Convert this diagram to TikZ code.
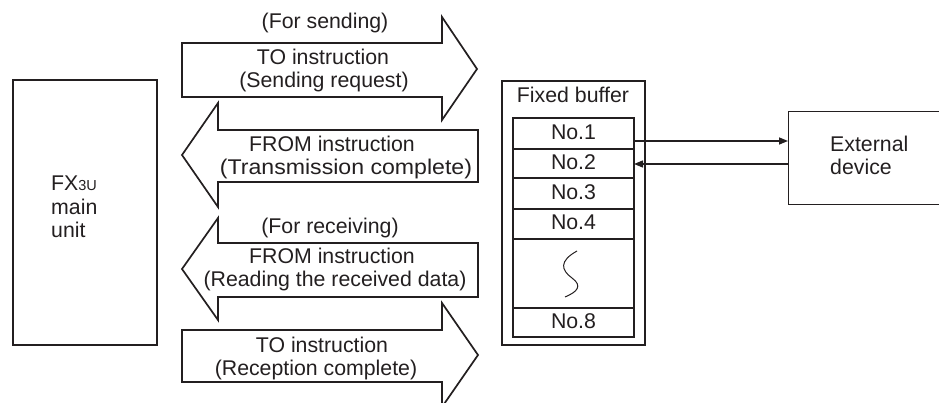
\documentclass[tikz,border=0pt]{standalone}
\usepackage{fontspec}
\setmainfont{Liberation Sans}
\usetikzlibrary{arrows.meta}
\definecolor{ink}{HTML}{231F20}
\begin{document}
\begin{tikzpicture}[x=1pt,y=-1pt,
  txt/.style={inner sep=0pt,anchor=base,font=\fontsize{21.3}{23}\selectfont,text=ink},
  ltxt/.style={inner sep=0pt,anchor=base west,font=\fontsize{21.3}{23}\selectfont,text=ink},
  bigarrow/.style={draw=ink,line width=1.7pt,line join=miter,fill=white},
  boxline/.style={draw=ink,line width=1.1pt},
  link/.style={draw=ink,line width=1.4pt,-{Triangle[length=9pt,width=7pt]}}]
\useasboundingbox (0,0) rectangle (939,403);
% FX3U main unit
\draw[boxline] (13,80) rectangle (157,345);
\node[ltxt] (fx) at (51,191) {FX{\fontsize{14.5}{14}\selectfont 3U}};
\node[ltxt] (fxmain) at (51,215) {main};
\node[ltxt] (fxunit) at (51,238) {unit};
% big arrows
\draw[bigarrow] (182,43) -- (442,43) -- (442,17) -- (477,69) -- (442,120) -- (442,97) -- (182,97) -- cycle;
\draw[bigarrow] (478,130) -- (218,130) -- (218,103) -- (182,155) -- (218,207) -- (218,182) -- (478,182) -- cycle;
\draw[bigarrow] (478,243) -- (218,243) -- (218,218) -- (182,269) -- (218,320) -- (218,297) -- (478,297) -- cycle;
\draw[bigarrow] (182,330) -- (442,330) -- (442,303) -- (478,355) -- (442,407) -- (442,382) -- (182,382) -- cycle;
% arrow texts
\node[txt] (send) at (325,29) {(For sending)};
\node[txt] (a1a) at (323,65) {TO instruction};
\node[txt] (a1b) at (324,88) {(Sending request)};
\node[txt] (a2a) at (332,152) {FROM instruction};
\node[txt] (a2b) at (346,175) {\scalebox{1.085}[1]{(Transmission complete)}};
\node[txt] (recv) at (330,234) {(For receiving)};
\node[txt] (a3a) at (332,264) {FROM instruction};
\node[txt] (a3b) at (335,287) {(Reading the received data)};
\node[txt] (a4a) at (322,352) {TO instruction};
\node[txt] (a4b) at (316,375) {(Reception complete)};
% fixed buffer
\draw[boxline] (502,81) rectangle (645,345);
\node[txt] (fb) at (573,103) {Fixed buffer};
\draw[boxline] (513,118) rectangle (634,337);
\foreach \yy in {149,178,209,239,308} \draw[boxline] (513,\yy) -- (634,\yy);
\node[txt] (n1) at (573.5,140) {No.1};
\node[txt] (n2) at (573.5,170) {No.2};
\node[txt] (n3) at (573.5,200) {No.3};
\node[txt] (n4) at (573.5,230) {No.4};
\node[txt] (n8) at (573.5,328) {No.8};
\draw[draw=ink,line width=1pt] (577,251) .. controls (559,261) and (561,270) .. (572,278) .. controls (583,286) and (577,292) .. (565,297);
% external device
\node[boxline,rectangle,minimum width=160pt,minimum height=93pt,anchor=north west,inner sep=0pt] (ext) at (788,111) {};
\node[ltxt] (ext1) at (830,152) {External};
\node[ltxt] (ext2) at (830,175) {device};
% links
\coordinate (o1) at (634,141);
\coordinate (o2) at (634,164);
\draw[link] (o1) -- (o1 -| ext.west);
\draw[link] (o2 -| ext.west) -- (o2);
\end{tikzpicture}
\end{document}
